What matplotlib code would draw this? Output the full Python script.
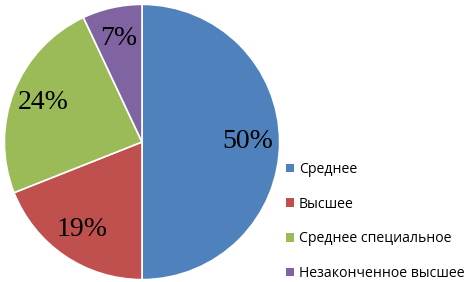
import matplotlib.pyplot as plt
from matplotlib.patches import Patch

labels = ['Среднее', 'Высшее', 'Среднее специальное', 'Незаконченное высшее']
values = [50, 19, 24, 7]
colors = ['#4F81BD', '#C0504D', '#9BBB59', '#8064A2']

fig = plt.figure(figsize=(4.71, 2.82), dpi=100)
ax = fig.add_axes([3/471, 1/282, 278/471, 278/282])

wedges, texts, autotexts = ax.pie(values, colors=colors, startangle=90, counterclock=False,
                                  autopct='%1.0f%%', pctdistance=0.77,
                                  wedgeprops=dict(edgecolor='white', linewidth=1.2),
                                  textprops=dict(family='Liberation Serif', fontsize=20, color='black'))
ax.set_xlim(-1.01, 1.01)
ax.set_ylim(-1.01, 1.01)
ax.set_aspect('equal')

handles = [Patch(facecolor=c, edgecolor='none') for c in colors]
fig.legend(handles, labels, loc='upper left', bbox_to_anchor=(286/471, 1 - 162/282),
           frameon=False, prop=dict(family='Open Sans', size=10.1),
           handlelength=0.55, handleheight=0.55, handletextpad=0.35,
           labelspacing=1.4, borderaxespad=0, borderpad=0)

fig.savefig('out.png', dpi=100)
